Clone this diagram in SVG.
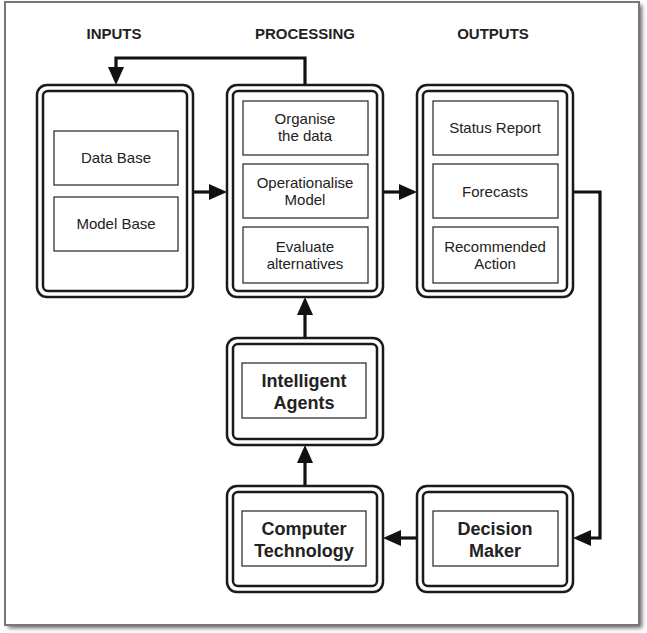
<svg xmlns="http://www.w3.org/2000/svg" width="647" height="633" viewBox="0 0 647 633">
<defs>
<filter id="sh" x="-5%" y="-5%" width="110%" height="110%"><feGaussianBlur stdDeviation="2"/></filter>
<marker id="ah" viewBox="0 0 18 16" refX="4" refY="8" markerWidth="18" markerHeight="16" markerUnits="userSpaceOnUse" orient="auto"><path d="M0,0 L18,8 L0,16 z" fill="#111"/></marker>
<style>
.outer{fill:#fff;stroke:#1a1a1a;stroke-width:2.5}
.inner{fill:none;stroke:#1a1a1a;stroke-width:2.5}
.sub{fill:#fff;stroke:#333;stroke-width:1.3}
.t{font-family:"Liberation Sans",Arial,sans-serif;font-size:15px;fill:#222;text-anchor:middle}
.b{font-family:"Liberation Sans",Arial,sans-serif;font-size:18px;font-weight:bold;fill:#222;text-anchor:middle}
.h{font-family:"Liberation Sans",Arial,sans-serif;font-size:15px;font-weight:bold;fill:#222;text-anchor:middle}
.c{fill:none;stroke:#111;stroke-width:3.2;marker-end:url(#ah)}
</style>
</defs>
<rect x="8" y="5" width="634" height="623" fill="#666" filter="url(#sh)"/>
<rect x="5" y="2" width="634" height="623" fill="#fff" stroke="#777" stroke-width="2"/>
<g id="headers">
<text class="h" x="114" y="39">INPUTS</text>
<text class="h" x="305" y="39">PROCESSING</text>
<text class="h" x="493" y="39">OUTPUTS</text>
</g>
<g id="connectors">
<path class="c" d="M305,85 V58 H116 V71"/>
<path class="c" d="M194,192 H213"/>
<path class="c" d="M383,192 H403"/>
<path class="c" d="M573,192 H600 V538 H587"/>
<path class="c" d="M417,538 H397"/>
<path class="c" d="M305,486 V459"/>
<path class="c" d="M305,338 V311"/>
</g>
<g id="inputs">
<rect class="outer" x="37" y="85" width="156" height="212" rx="10"/>
<rect class="inner" x="43" y="91" width="144" height="200" rx="5"/>
<rect class="sub" x="54" y="131" width="124" height="54"/>
<text class="t" x="116" y="163">Data Base</text>
<rect class="sub" x="54" y="197" width="124" height="54"/>
<text class="t" x="116" y="229">Model Base</text>
</g>
<g id="processing">
<rect class="outer" x="227" y="85" width="156" height="212" rx="10"/>
<rect class="inner" x="233" y="91" width="144" height="200" rx="5"/>
<rect class="sub" x="243" y="101" width="125" height="54"/>
<text class="t" x="305" y="124">Organise</text>
<text class="t" x="305" y="141">the data</text>
<rect class="sub" x="243" y="164" width="125" height="54"/>
<text class="t" x="305" y="188">Operationalise</text>
<text class="t" x="305" y="205">Model</text>
<rect class="sub" x="243" y="227" width="125" height="56"/>
<text class="t" x="305" y="252">Evaluate</text>
<text class="t" x="305" y="269">alternatives</text>
</g>
<g id="outputs">
<rect class="outer" x="417" y="85" width="156" height="212" rx="10"/>
<rect class="inner" x="423" y="91" width="144" height="200" rx="5"/>
<rect class="sub" x="433" y="101" width="125" height="54"/>
<text class="t" x="495" y="133">Status Report</text>
<rect class="sub" x="433" y="164" width="125" height="54"/>
<text class="t" x="495" y="197">Forecasts</text>
<rect class="sub" x="433" y="227" width="125" height="56"/>
<text class="t" x="495" y="252">Recommended</text>
<text class="t" x="495" y="269">Action</text>
</g>
<g id="intelligent-agents">
<rect class="outer" x="227" y="338" width="156" height="107" rx="10"/>
<rect class="inner" x="233" y="344" width="144" height="95" rx="5"/>
<rect class="sub" x="242" y="363" width="124" height="55"/>
<text class="b" x="304" y="387">Intelligent</text>
<text class="b" x="304" y="409">Agents</text>
</g>
<g id="computer-technology">
<rect class="outer" x="227" y="486" width="156" height="106" rx="10"/>
<rect class="inner" x="233" y="492" width="144" height="94" rx="5"/>
<rect class="sub" x="242" y="511" width="124" height="55"/>
<text class="b" x="304" y="535">Computer</text>
<text class="b" x="304" y="557">Technology</text>
</g>
<g id="decision-maker">
<rect class="outer" x="417" y="486" width="156" height="106" rx="10"/>
<rect class="inner" x="423" y="492" width="144" height="94" rx="5"/>
<rect class="sub" x="433" y="511" width="125" height="55"/>
<text class="b" x="495" y="535">Decision</text>
<text class="b" x="495" y="557">Maker</text>
</g>
</svg>
